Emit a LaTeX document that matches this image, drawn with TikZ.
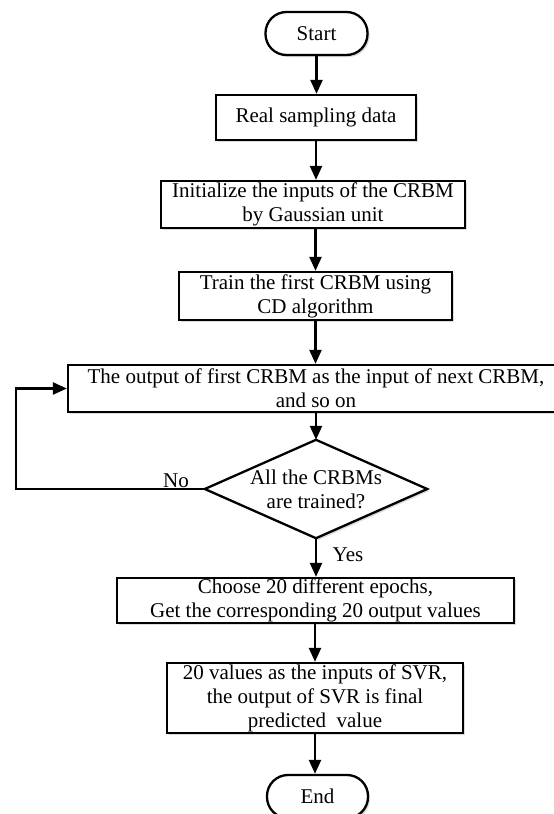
\documentclass[tikz,border=0pt]{standalone}
\usepackage{fontspec}
\setmainfont{Liberation Serif}
\usetikzlibrary{arrows.meta,shadows}
\begin{document}
\begin{tikzpicture}[x=1pt,y=-1pt,
  every node/.style={font=\fontsize{21}{24}\selectfont, align=center, inner sep=0pt},
  procbox/.style={draw, line width=2.3pt, drop shadow={shadow xshift=2pt, shadow yshift=-2pt, fill=black!20, opacity=0.7}, fill=white},
  termbox/.style={procbox, rounded corners=21pt},
  arr/.style={line width=2.3pt, -{Triangle[length=14pt,width=12pt]}},
  lbl/.style={font=\fontsize{21}{24}\selectfont}
]
\useasboundingbox (0,0) rectangle (554,814);
\fill[white] (0,0) rectangle (554,814);

\node[termbox, minimum width=102pt, minimum height=43pt] (start) at (316.5,33.5) {Start};
\node[procbox, minimum width=200pt, minimum height=45pt] (real) at (316,117.5) {Real sampling data};
\node[procbox, minimum width=304pt, minimum height=47pt] (init) at (313,204.5) {Initialize the inputs of the CRBM\\by Gaussian unit};
\node[procbox, minimum width=273pt, minimum height=48pt] (train) at (315.5,296) {Train the first CRBM using\\CD algorithm};
\node[procbox, minimum width=496pt, minimum height=47pt] (out) at (316,388.5) {The output of first CRBM as the input of next CRBM,\\and so on};
\node[minimum width=222pt, minimum height=98pt] (dec) at (316,489) {};
\fill[black!20, opacity=0.7] ([shift={(2,2)}]dec.north) -- ([shift={(2,2)}]dec.east) -- ([shift={(2,2)}]dec.south) -- ([shift={(2,2)}]dec.west) -- cycle;
\draw[line width=2.3pt, fill=white] (dec.north) -- (dec.east) -- (dec.south) -- (dec.west) -- cycle;
\node (dectext) at (dec) {All the CRBMs\\are trained?};
\node[procbox, minimum width=397pt, minimum height=45pt] (choose) at (315.5,600.5) {Choose 20 different epochs,\\Get the corresponding 20 output values};
\node[procbox, minimum width=296pt, minimum height=70pt] (svr) at (315,698) {20 values as the inputs of SVR,\\the output of SVR is final\\predicted~ value};
\node[termbox, minimum width=101pt, minimum height=43pt] (end) at (317.5,796.5) {End};

\coordinate (fbl) at (16,489);
\coordinate (fbt) at (16,388.5);

\draw[arr] (start.south) -- (start.south |- real.north);
\draw[arr] (real.south) -- (real.south |- init.north);
\draw[arr] (train.north |- init.south) -- (train.north);
\draw[arr] (train.south) -- (train.south |- out.north);
\draw[arr] (dec.north |- out.south) -- (dec.north);
\draw[arr] (dec.south) -- (dec.south |- choose.north);
\draw[arr] (svr.north |- choose.south) -- (svr.north);
\draw[arr] (svr.south) -- (svr.south |- end.north);
\draw[arr] (dec.west) -- (fbl) -- (fbt) -- (out.west);

\node[lbl] (no) at (176,481) {No};
\node[lbl] (yes) at (348,555) {Yes};
\end{tikzpicture}
\end{document}
